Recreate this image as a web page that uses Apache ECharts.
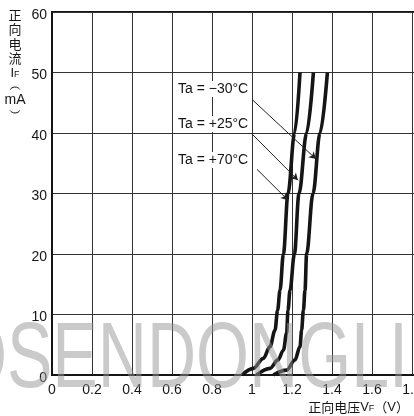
<!DOCTYPE html>
<html>
<head>
<meta charset="utf-8">
<style>
  html, body { margin: 0; padding: 0; background: #fff; }
  #chart { width: 414px; height: 416px; }
</style>
<script src="https://cdn.jsdelivr.net/npm/echarts@6/dist/echarts.min.js"></script>
</head>
<body>
<div id="chart"></div>
<script>
// Forward current vs forward voltage at three ambient temperatures
const tempLabels = ['Ta = \u221230\u00b0C', 'Ta = +25\u00b0C', 'Ta = +70\u00b0C'];

// [VF (V), IF (mA)]
const curveMinus30 = [[1.107,0],[1.173,0.8],[1.215,2.5],[1.24,4.7],[1.248,7.4],[1.257,10.7],[1.265,14],[1.273,20],[1.305,30],[1.34,40],[1.377,50]];
const curvePlus25  = [[1.023,0],[1.09,1.1],[1.13,2.5],[1.157,4.1],[1.173,6.9],[1.18,10.7],[1.19,14],[1.212,20],[1.235,30],[1.273,40],[1.307,50]];
const curvePlus70  = [[0.95,0],[1.007,1.1],[1.057,2.75],[1.09,4.7],[1.115,7.4],[1.128,10.7],[1.14,14],[1.157,20],[1.18,30],[1.213,40],[1.24,50]];

// callout arrows: [label end, curve point]
const arrowMinus30 = [[1.005,45.4],[1.32,35.7]];
const arrowPlus25  = [[0.995,40.0],[1.23,32.2]];
const arrowPlus70  = [[1.025,34.0],[1.18,28.9]];

const xTickLabels = ['0','0.2','0.4','0.6','0.8','1','1.2','1.4','1.6','1.8','2'];
const yTickLabels = ['0','10','20','30','40','50','60'];

const FONT = '"Liberation Sans", Arial, Helvetica, sans-serif';
const CJK = '"Noto Sans CJK SC", "Liberation Sans", sans-serif';
const INK = '#151515';

function arrowLine(pts) {
  return {
    silent: true,
    symbol: ['none', 'arrow'],
    symbolSize: [6, 7],
    label: { show: false },
    lineStyle: { color: '#222', width: 1, type: 'solid' },
    emphasis: { disabled: true },
    data: [[{ coord: pts[0] }, { coord: pts[1] }]]
  };
}

function curve(name, data, arrow) {
  return {
    name: name,
    type: 'line',
    data: data,
    smooth: 0.35,
    smoothMonotone: 'x',
    showSymbol: false,
    lineStyle: { color: INK, width: 3.6, cap: 'butt' },
    z: 3,
    markLine: arrowLine(arrow)
  };
}

const yNameChars = ['\u6b63', '\u5411', '\u7535', '\u6d41'];
const yNameTexts = yNameChars.map((c, i) => ({
  type: 'text', x: 15, y: 15 + i * 14.5,
  style: { text: c, font: '13px ' + CJK, fill: INK, align: 'center', verticalAlign: 'middle' }
}));

const chart = echarts.init(document.getElementById('chart'), null, { renderer: 'canvas' });
chart.setOption({
  animation: false,
  backgroundColor: '#fff',
  grid: {
    left: 52, top: 12, width: 400, height: 363,
    outerBoundsMode: 'none', containLabel: false,
    show: true, borderColor: INK, borderWidth: 2, backgroundColor: 'transparent'
  },
  xAxis: {
    type: 'value', min: 0, max: 2, interval: 0.2,
    axisLine: { show: true, lineStyle: { color: INK, width: 2 } },
    axisTick: { show: false },
    splitLine: { show: true, lineStyle: { color: '#333', width: 1 } },
    axisLabel: {
      color: INK, fontSize: 14, fontFamily: FONT, margin: 8,
      showMinLabel: true, showMaxLabel: true, hideOverlap: false,
      formatter: v => xTickLabels[Math.round(v / 0.2)]
    }
  },
  yAxis: {
    type: 'value', min: 0, max: 60, interval: 10,
    axisLine: { show: true, lineStyle: { color: INK, width: 2 } },
    axisTick: { show: false },
    splitLine: { show: true, lineStyle: { color: '#333', width: 1 } },
    axisLabel: {
      color: INK, fontSize: 14, fontFamily: FONT, margin: 5,
      verticalAlign: 'top', lineHeight: 6,
      formatter: v => yTickLabels[Math.round(v / 10)]
    }
  },
  series: [
    curve(tempLabels[0], curveMinus30, arrowMinus30),
    curve(tempLabels[1], curvePlus25, arrowPlus25),
    curve(tempLabels[2], curvePlus70, arrowPlus70)
  ],
  graphic: [
    // callout labels
    { type: 'text', x: 176, y: 89, z: 10,
      style: { text: tempLabels[0], font: '14px ' + FONT, fill: INK, verticalAlign: 'middle', backgroundColor: '#fff', padding: [1, 2] } },
    { type: 'text', x: 176, y: 124, z: 10,
      style: { text: tempLabels[1], font: '14px ' + FONT, fill: INK, verticalAlign: 'middle', backgroundColor: '#fff', padding: [1, 2] } },
    { type: 'text', x: 176, y: 160, z: 10,
      style: { text: tempLabels[2], font: '14px ' + FONT, fill: INK, verticalAlign: 'middle', backgroundColor: '#fff', padding: [1, 2] } },
    // vertical y-axis title
    ...yNameTexts,
    { type: 'text', x: 15, y: 73, style: {
        text: '{a|I}{b|F}', fill: INK, align: 'center', verticalAlign: 'middle',
        rich: { a: { font: '13px ' + FONT, fill: INK }, b: { font: '9px ' + FONT, fill: INK, padding: [3, 0, 0, 0] } } } },
    { type: 'arc', shape: { cx: 15, cy: 93, r: 6, startAngle: Math.PI * 1.2, endAngle: Math.PI * 1.8 },
      style: { stroke: INK, lineWidth: 1, fill: null } },
    { type: 'text', x: 15, y: 100, style: { text: 'mA', font: '14px ' + FONT, fill: INK, align: 'center', verticalAlign: 'middle' } },
    { type: 'arc', shape: { cx: 15, cy: 107, r: 6, startAngle: Math.PI * 0.2, endAngle: Math.PI * 0.8 },
      style: { stroke: INK, lineWidth: 1, fill: null } },
    // x-axis title
    { type: 'text', x: 409, y: 407, style: {
        text: '{c|\u6b63\u5411\u7535\u538b}{a|V}{b|F}{c|\uff08}{a|V}{c|\uff09}', align: 'right', verticalAlign: 'middle', fill: INK,
        rich: {
          c: { font: '13px ' + CJK, fill: INK },
          a: { font: '13px ' + FONT, fill: INK },
          b: { font: '9px ' + FONT, fill: INK, padding: [3, 0, 0, 0] }
        } } },
    // brand mark across the lower part of the plot
    { type: 'text', x: -46, y: 362, scaleX: 0.74, z: 50, silent: true,
      style: { text: 'OSENDONGLI', font: '92px "Liberation Sans", sans-serif', fill: 'rgba(150,150,150,0.5)', verticalAlign: 'middle' } }
  ]
});
</script>
</body>
</html>
